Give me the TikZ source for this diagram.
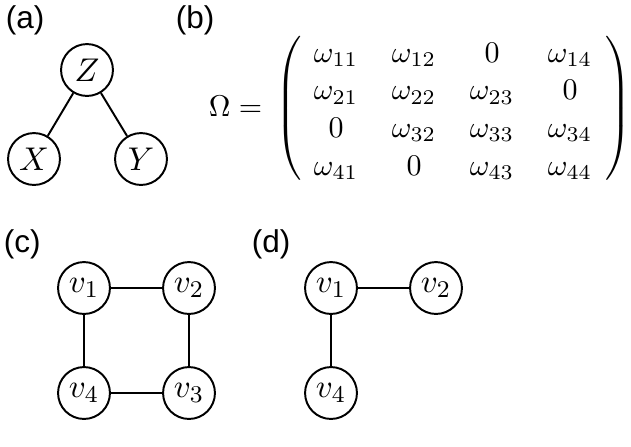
\documentclass[tikz,border=0pt]{standalone}
\usepackage{fontspec}
\newfontfamily\labfont{Liberation Sans}
\usepackage{tikz}
\usetikzlibrary{matrix}

\tikzset{
	vert/.style={circle,draw,line width=0.65pt,minimum size=17.3pt,inner sep=0pt,font=\fontsize{11}{13}\selectfont},
	lab/.style={anchor=base west,inner sep=0pt,font=\labfont\fontsize{10.5}{12}\selectfont}
}

\begin{document}
\begin{tikzpicture}[x=0.33333pt,y=-0.33333pt,line width=0.65pt]
		\useasboundingbox (0,0) rectangle (631,446);
		% (a)
		\node[lab] (la) at (5,28) {(a)};
		\node[vert] (z) at (87,70) {$Z$};
		\node[vert] (x) at (34,159) {$X$};
		\node[vert] (y) at (141,159) {$Y$};
		\foreach \a / \b in {z/x,z/y} { \draw (\a) -- (\b);}
		% (b)
		\node[lab] (lb) at (175,28) {(b)};
		\node[anchor=base,inner sep=0pt] (om) at (235.5,116) {$\Omega=$};
		\matrix (m) [matrix of math nodes,matrix anchor=m-1-1.base,inner sep=0pt,outer sep=0pt,nodes={inner sep=0pt},
			column sep={26pt,between origins},row sep={12.57pt,between origins}] at (336,62) {
			\omega_{11} & \omega_{12} & 0 & \omega_{14} \\
			\omega_{21} & \omega_{22} & \omega_{23} & 0 \\
			0 & \omega_{32} & \omega_{33} & \omega_{34} \\
			\omega_{41} & 0 & \omega_{43} & \omega_{44} \\
		};
		\node[inner sep=0pt] (lp) at (289,108) {$\nulldelimiterspace=0pt\left(\vcenter{\hbox{\rule{0pt}{50pt}}}\right.$};
		\node[inner sep=0pt] (rp) at (619,108) {$\nulldelimiterspace=0pt\left.\vcenter{\hbox{\rule{0pt}{50pt}}}\right)$};
		% (c)
		\node[lab] (lc) at (3,252) {(c)};
		\foreach \n / \x / \y in {1/84/288,2/189/288,3/189/393,4/84/393} { \node[vert] (c\n) at (\x,\y) {$v_\n$};}
		\foreach \a / \b in {1/2,2/3,3/4,4/1} { \draw (c\a) -- (c\b);}
		% (d)
		\node[lab] (ld) at (251,252) {(d)};
		\foreach \n / \x / \y in {1/331/288,2/436/288,4/331/393} { \node[vert] (d\n) at (\x,\y) {$v_\n$};}
		\foreach \a / \b in {1/2,1/4} { \draw (d\a) -- (d\b);}
	\end{tikzpicture}
\end{document}
